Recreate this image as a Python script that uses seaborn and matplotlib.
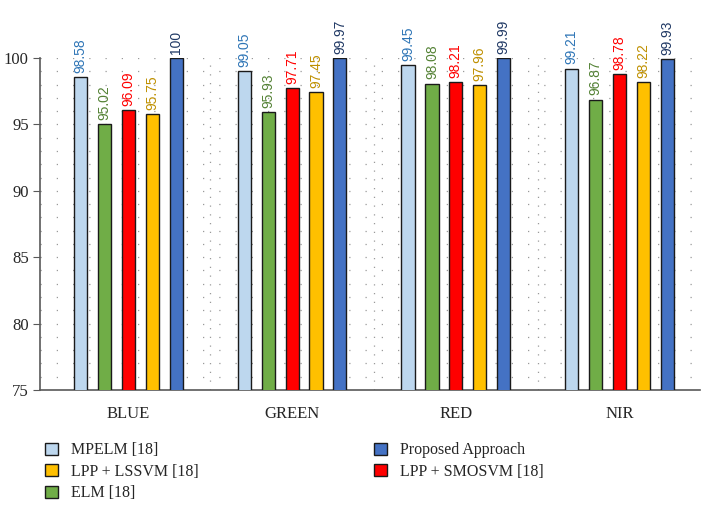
import matplotlib
matplotlib.use('Agg')
import matplotlib.pyplot as plt
import pandas as pd
import seaborn as sns

# Data
bands = ['BLUE', 'GREEN', 'RED', 'NIR']
methods = ['MPELM [18]', 'ELM [18]', 'LPP + SMOSVM [18]', 'LPP + LSSVM [18]', 'Proposed Approach']
mpelm = [98.58, 99.05, 99.45, 99.21]
elm = [95.02, 95.93, 98.08, 96.87]
smosvm = [96.09, 97.71, 98.21, 98.78]
lssvm = [95.75, 97.45, 97.96, 98.22]
proposed = [100, 99.97, 99.99, 99.93]

bar_colors = ['#BDD7EE', '#70AD47', '#FF0000', '#FFC000', '#4472C4']
text_colors = ['#2E75B6', '#548235', '#FF0000', '#BF9000', '#1F3864']
legend_order = ['MPELM [18]', 'LPP + LSSVM [18]', 'ELM [18]', 'Proposed Approach', 'LPP + SMOSVM [18]']

rows = []
for m, vals in zip(methods, [mpelm, elm, smosvm, lssvm, proposed]):
    for b, v in zip(bands, vals):
        rows.append({'band': b, 'method': m, 'value': v})
df = pd.DataFrame(rows)

sns.set_style('white')
plt.rcParams['font.family'] = ['Liberation Serif', 'DejaVu Serif']

fig = plt.figure(figsize=(7.12, 5.05), dpi=100)
ax = fig.add_axes([0.056, 0.228, 0.927, 0.657])

sns.barplot(data=df, x='band', y='value', hue='method', order=bands, hue_order=methods,
            palette=bar_colors, saturation=1, width=0.73, gap=0.45,
            edgecolor='#1a1a1a', linewidth=1.0, ax=ax, zorder=3)

for cont, c in zip(ax.containers, text_colors):
    ax.bar_label(cont, fmt='%g', rotation=90, padding=3, color=c, fontsize=10,
                 family='Liberation Sans', annotation_clip=False)

ax.set_ylim(75, 100)
ax.set_xlim(-0.54, 3.49)
ax.set_yticks(range(75, 101, 5))
ax.set_xlabel('')
ax.set_ylabel('')

# dotted background grid
for y in range(76, 101):
    ax.axhline(y, color='#9a9a9a', lw=0.9, ls=(0, (1, 12)), zorder=0)
for x in [0.5, 1.5, 2.5]:
    ax.axvline(x, color='#9a9a9a', lw=0.9, ls=(0, (1, 6)), zorder=0)

for s in ['top', 'right']:
    ax.spines[s].set_visible(False)
for s in ['left', 'bottom']:
    ax.spines[s].set_color('#595959')
    ax.spines[s].set_linewidth(1.2)

ax.tick_params(axis='y', which='both', left=True, length=5, color='#595959', labelsize=12, pad=3)
ax.tick_params(axis='x', bottom=False, labelsize=12, pad=8)

handles, labels = ax.get_legend_handles_labels()
ax.get_legend().remove()
lookup = dict(zip(labels, handles))
fig.legend([lookup[l] for l in legend_order], legend_order, ncol=2, frameon=False,
           loc='upper left', bbox_to_anchor=(0.052, 0.14), fontsize=11.5,
           handlelength=0.8, handleheight=0.8, handletextpad=0.8,
           labelspacing=0.35, columnspacing=11.0, borderpad=0)

fig.savefig('out.png', dpi=100)
